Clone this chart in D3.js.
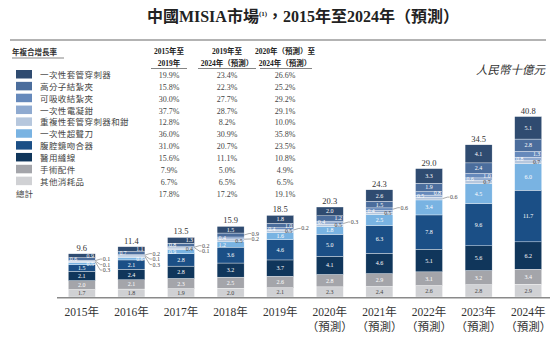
<!DOCTYPE html>
<html>
<head>
<meta charset="utf-8">
<script src="https://cdn.jsdelivr.net/npm/d3@7"></script>
<style>
  body { margin: 0; background: #fff; }
  svg { display: block; font-family: "Liberation Serif", "Noto Sans CJK TC", serif; }
</style>
</head>
<body>
<svg id="chart" width="554" height="339"></svg>
<script>
// categories, top of legend first (= top of stack)
let categories = ["一次性套管穿刺器", "高分子結紮夾", "可吸收結紮夾", "一次性電凝鉗", "重複性套管穿刺器和鉗",
  "一次性超聲刀", "腹腔鏡吻合器", "醫用縫線", "手術配件", "其他消耗品"];
let colors = ["#2f4b70", "#4b6d9c", "#6689bb", "#8faad0", "#b6c7dd", "#79b3e2", "#1b4f86", "#10365b", "#a4a5aa", "#d0d1d4"];

let years = ["2015年", "2016年", "2017年", "2018年", "2019年", "2020年", "2021年", "2022年", "2023年", "2024年"];
let yearNotes = ["", "", "", "", "", "（預測）", "（預測）", "（預測）", "（預測）", "（預測）"];

// values, RMB billion, one array per category (same order as categories)
let trocarDisposable = [0.9, 1.1, 1.3, 1.5, 1.8, 2.0, 2.6, 3.3, 4.1, 5.1];
let polymerClip      = [0.6, 0.7, 0.8, 0.9, 1.0, 1.2, 1.5, 1.9, 2.4, 2.8];
let absorbableClip   = [0.1, 0.2, 0.2, 0.4, 0.4, 0.4, 0.6, 0.8, 1.0, 1.3];
let electroForceps   = [0.1, 0.1, 0.1, 0.2, 0.2, 0.3, 0.4, 0.5, 0.6, 0.8];
let reusableTrocar   = [0.3, 0.3, 0.4, 0.5, 0.5, 0.5, 0.5, 0.6, 0.7, 0.7];
let ultrasonicKnife  = [0.5, 0.6, 0.9, 1.2, 1.6, 1.8, 2.5, 3.4, 4.5, 6.0];
let stapler          = [1.5, 2.1, 2.8, 3.6, 4.6, 5.0, 6.3, 7.8, 9.6, 11.7];
let suture           = [2.1, 2.4, 2.8, 3.2, 3.7, 4.1, 4.6, 5.1, 5.6, 6.2];
let accessories      = [2.0, 2.1, 2.3, 2.5, 2.6, 2.8, 2.9, 3.1, 3.2, 3.4];
let otherConsumables = [1.7, 1.8, 1.9, 2.0, 2.1, 2.3, 2.4, 2.6, 2.8, 2.9];
let totals = [9.6, 11.4, 13.5, 15.9, 18.5, 20.3, 24.3, 29.0, 34.5, 40.8];

let series = [trocarDisposable, polymerClip, absorbableClip, electroForceps, reusableTrocar,
  ultrasonicKnife, stapler, suture, accessories, otherConsumables];

// CAGR table
let cagrHeads = [["2015年至", "2019年"], ["2019年至", "2024年（預測）"], ["2020年（預測）至", "2024年（預測）"]];
let cagr1519 = ["19.9%", "15.8%", "30.0%", "37.7%", "12.8%", "36.0%", "31.0%", "15.6%", "7.9%", "6.7%", "17.8%"];
let cagr1924 = ["23.4%", "22.3%", "27.7%", "28.7%", "8.2%", "30.9%", "20.7%", "11.1%", "5.0%", "6.5%", "17.2%"];
let cagr2024 = ["26.6%", "25.2%", "29.2%", "29.1%", "10.0%", "35.8%", "23.5%", "10.8%", "4.9%", "6.5%", "19.1%"];

const svg = d3.select("#chart");

// title
let title = svg.append("text").attr("x", 303).attr("y", 22).attr("text-anchor", "middle")
  .style("font-size", "16px").style("font-weight", "bold").attr("fill", "#222");
title.append("tspan").text("中國MISIA市場");
title.append("tspan").text("(1)").style("font-size", "7px").attr("dy", -6);
title.append("tspan").text("，2015年至2024年（預測）").attr("dy", 6);

svg.append("line").attr("x1", 10).attr("x2", 546).attr("y1", 40).attr("y2", 40)
  .attr("stroke", "#9a9a9a").attr("stroke-width", 1.5);

// unit
svg.append("text").attr("x", 545).attr("y", 74).attr("text-anchor", "end")
  .style("font-size", "11.5px").style("font-style", "italic").attr("fill", "#333").text("人民幣十億元");

// ---------- CAGR table ----------
let table = svg.append("g");
table.append("text").attr("x", 12).attr("y", 55).style("font-size", "7.5px").style("font-weight", "bold")
  .attr("fill", "#333").text("年複合增長率");
table.append("line").attr("x1", 12).attr("x2", 64).attr("y1", 58).attr("y2", 58).attr("stroke", "#333").attr("stroke-width", 0.6);

let colX = d3.scalePoint().domain([0, 1, 2]).range([169, 285]);
cagrHeads.forEach((h, i) => {
  h.forEach((t, j) => {
    table.append("text").attr("x", colX(i)).attr("y", 54 + j * 11.5).attr("text-anchor", "middle")
      .style("font-size", "7.5px").style("font-weight", "bold").attr("fill", "#222").text(t);
  });
});
[[151, 187], [198, 256], [260, 312]].forEach(s => {
  table.append("line").attr("x1", s[0]).attr("x2", s[1]).attr("y1", 68.5).attr("y2", 68.5)
    .attr("stroke", "#333").attr("stroke-width", 0.6);
});

let rowY = d3.scaleLinear().domain([0, 10]).range([78, 196.5]);
let rows = table.selectAll(".row").data(categories).enter().append("g").attr("class", "row")
  .attr("transform", (d, i) => "translate(0," + rowY(i) + ")");
rows.append("rect").attr("x", 16).attr("y", -8).attr("width", 16).attr("height", 8.5)
  .attr("fill", (d, i) => colors[i]);
rows.append("text").attr("x", 40).attr("y", 0).style("font-size", "8.5px").style("letter-spacing", "0.4px")
  .attr("fill", "#444").text(d => d);
table.append("text").attr("x", 16).attr("y", rowY(10)).style("font-size", "8.5px").attr("fill", "#444").text("總計");

[cagr1519, cagr1924, cagr2024].forEach((col, ci) => {
  table.selectAll(".c" + ci).data(col).enter().append("text")
    .attr("x", colX(ci)).attr("y", (d, i) => rowY(i))
    .attr("text-anchor", "middle").style("font-size", "8px").attr("fill", "#444").text(d => d);
});

// ---------- bars ----------
let x = d3.scaleBand().domain(years).range([57, 553]).paddingInner(0.455).paddingOuter(0.2275);
let y = d3.scaleLinear().domain([0, 40.8]).range([297, 117]);

let rowsData = years.map((yr, i) => {
  let o = { year: yr };
  categories.forEach((c, k) => o[c] = series[k][i]);
  return o;
});
let stackKeys = categories.slice().reverse(); // bottom first
let stacked = d3.stack().keys(stackKeys)(rowsData);

let bars = svg.append("g");
stacked.forEach(layer => {
  let k = categories.indexOf(layer.key);
  bars.selectAll(".s" + k).data(layer).enter().append("rect")
    .attr("x", d => x(d.data.year))
    .attr("width", x.bandwidth())
    .attr("y", d => y(d[1]))
    .attr("height", d => y(d[0]) - y(d[1]))
    .attr("fill", colors[k])
    .attr("stroke", "#fff").attr("stroke-width", 0.35);
});

// axis baseline
svg.append("line").attr("x1", 57).attr("x2", 550).attr("y1", y(0) + 0.8).attr("y2", y(0) + 0.8)
  .attr("stroke", "#8a8a8a").attr("stroke-width", 1.6);

let xAxis = svg.append("g").attr("transform", "translate(0," + (y(0) + 1) + ")")
  .call(d3.axisBottom(x).tickSize(0).tickPadding(0));
xAxis.select(".domain").remove();
xAxis.selectAll(".tick text").remove();
xAxis.selectAll(".tick").each(function(d, i) {
  let t = d3.select(this).append("text").attr("fill", "#333").attr("text-anchor", "middle")
    .style("font-size", "11.5px").style("font-family", "Liberation Serif, Noto Sans CJK TC, serif");
  t.append("tspan").attr("x", 0).attr("y", 18).text(d);
  if (yearNotes[i]) t.append("tspan").attr("x", 0).attr("y", 33).text(yearNotes[i]);
});

// totals
bars.selectAll(".total").data(years).enter().append("text")
  .attr("x", d => x(d) + x.bandwidth() / 2)
  .attr("y", (d, i) => y(stacked[stacked.length - 1][i][1]) - 3)
  .attr("text-anchor", "middle").style("font-size", "8.5px").attr("fill", "#333")
  .text((d, i) => totals[i].toFixed(1));

// segment labels
let darkText = new Set(["其他消耗品", "重複性套管穿刺器和鉗"]);
years.forEach((yr, i) => {
  let x0 = x(yr), bw = x.bandwidth();
  let side = 1;
  let lastY = { "1": -99, "-1": -99, "0": -99 };
  let callouts = [];
  // walk the stack from top to bottom
  for (let s = stacked.length - 1; s >= 0; s--) {
    let seg = stacked[s][i];
    let k = categories.indexOf(stacked[s].key);
    let v = series[k][i];
    let h = y(seg[0]) - y(seg[1]);
    let cy = (y(seg[0]) + y(seg[1])) / 2;
    let fill = darkText.has(stacked[s].key) ? "#444" : "#fff";
    let lbl = v.toFixed(1);
    if (h >= 6) {
      bars.append("text").attr("x", x0 + bw / 2).attr("y", cy + 2).attr("text-anchor", "middle")
        .style("font-size", "6px").attr("fill", fill).text(lbl);
      lastY["1"] = lastY["-1"] = cy;
    } else if (v >= 0.4) {
      if (cy - lastY[side] < 5.5) side = -side;
      if (cy - lastY[side] < 5.5) { callouts.push({ cy: cy, lbl: lbl }); continue; }
      let tx = side > 0 ? x0 + bw - 1.5 : x0 + 1.5;
      bars.append("text").attr("x", tx).attr("y", cy + 2)
        .attr("text-anchor", side > 0 ? "end" : "start")
        .style("font-size", "5.8px").attr("fill", fill).text(lbl);
      lastY[side] = cy;
      side = -side;
    } else {
      callouts.push({ cy: cy, lbl: lbl });
    }
  }
  let start = callouts.length ? callouts[0].cy - 1.5 : 0;
  callouts.forEach((c, j) => {
    let ly = start + j * 5.5;
    bars.append("path")
      .attr("d", "M" + (x0 + bw) + "," + c.cy + "L" + (x0 + bw + 5) + "," + ly + "L" + (x0 + bw + 7) + "," + ly)
      .attr("fill", "none").attr("stroke", "#555").attr("stroke-width", 0.5);
    bars.append("text").attr("x", x0 + bw + 7.5).attr("y", ly + 2)
      .style("font-size", "6px").attr("fill", "#444").text(c.lbl);
  });
});
</script>
</body>
</html>
